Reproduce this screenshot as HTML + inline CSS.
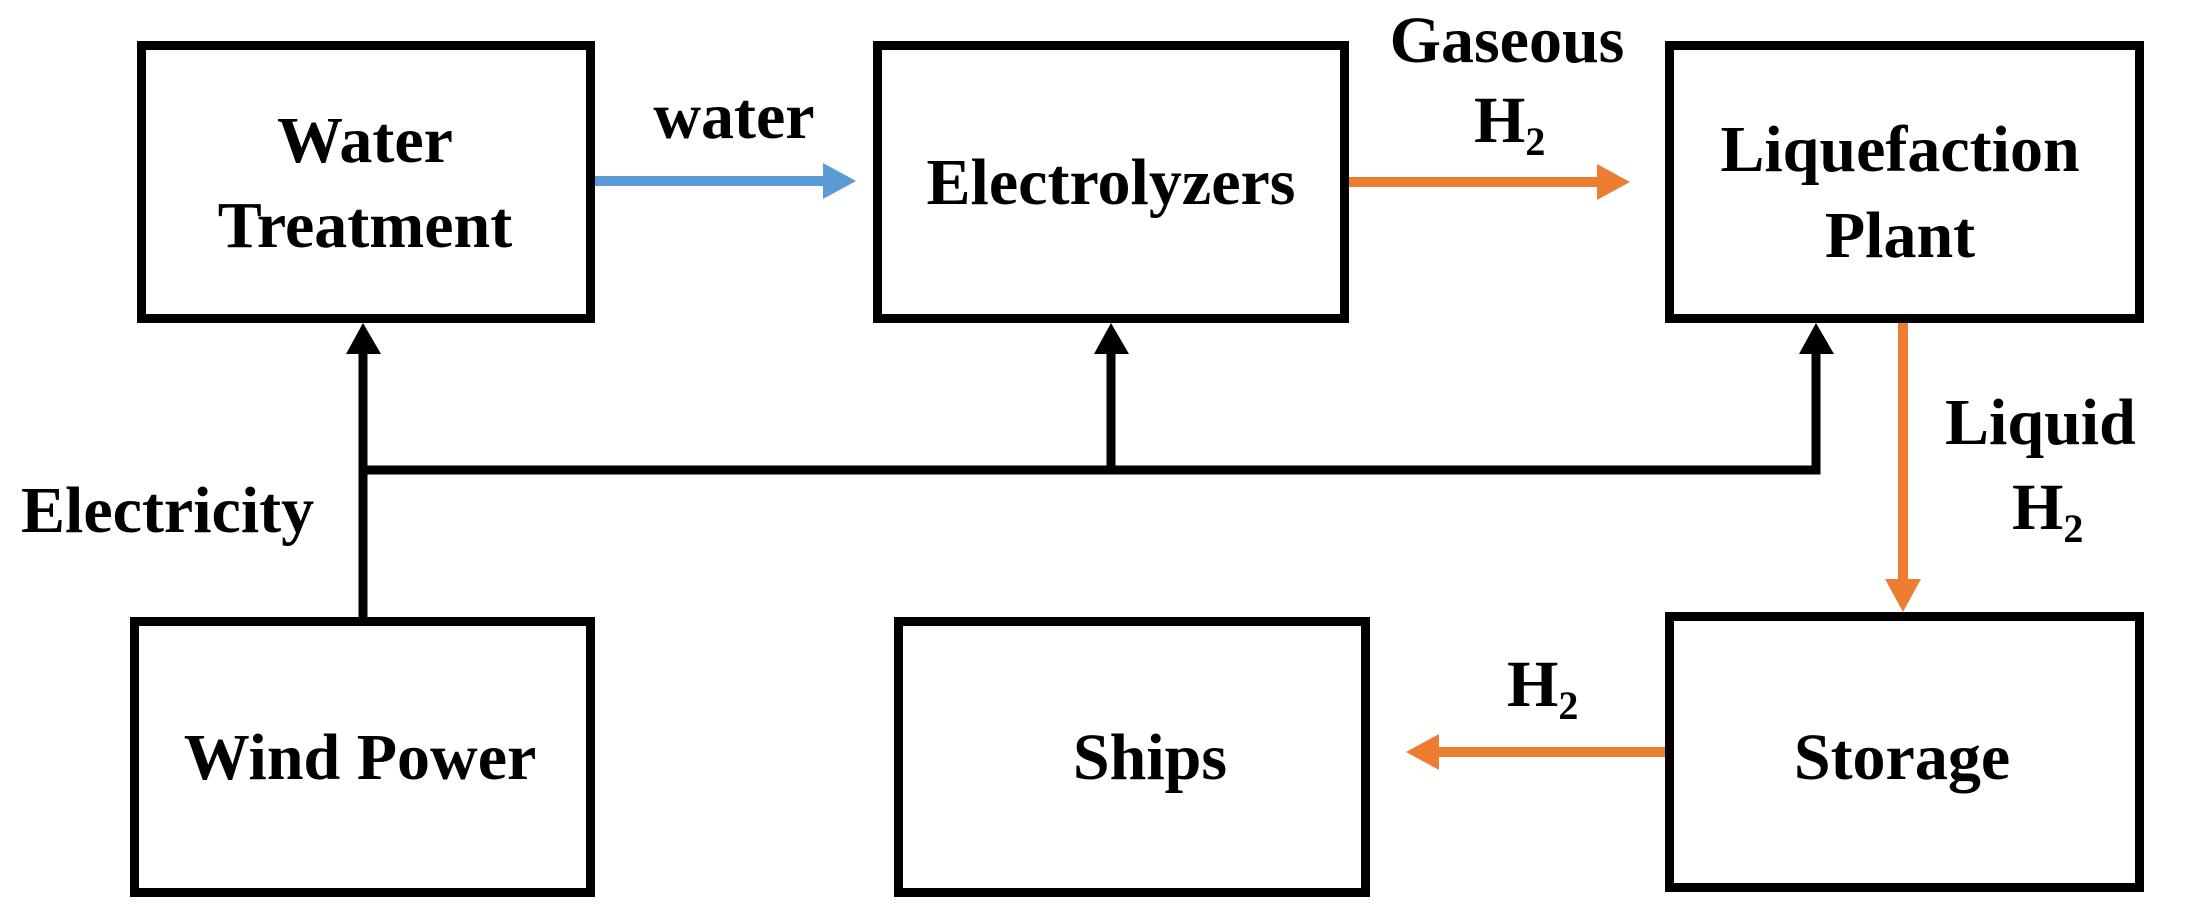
<!DOCTYPE html>
<html><head><meta charset="utf-8"><style>html,body{margin:0;padding:0;background:#fff}svg{display:block}</style></head>
<body>
<svg width="2186" height="922" viewBox="0 0 2186 922" xmlns="http://www.w3.org/2000/svg" font-family="'Liberation Serif', serif" font-weight="bold" font-size="66" fill="#000">
<g fill="none" stroke="#000" stroke-width="9">
<rect x="141.5" y="45.5" width="449" height="273"/>
<rect x="877.5" y="45.5" width="467" height="273"/>
<rect x="1669.5" y="45.5" width="470" height="273"/>
<rect x="134.5" y="621.5" width="456" height="271"/>
<rect x="898.5" y="621.5" width="467" height="271"/>
<rect x="1669.5" y="616.5" width="470" height="271"/>
<!-- electricity lines -->
<path d="M363 617 V350 M363 470 H1816 V350 M1111 470 V350"/>
</g>
<g fill="#000">
<polygon points="363,323 346,354 381,354"/>
<polygon points="1111,323 1094,354 1129,354"/>
<polygon points="1816,323 1799,354 1834,354"/>
</g>
<!-- blue water arrow -->
<line x1="595" y1="181" x2="825" y2="181" stroke="#5B9BD5" stroke-width="10"/>
<polygon points="856,181 823,163 823,199" fill="#5B9BD5"/>
<!-- orange arrows -->
<g stroke="#ED7D31" stroke-width="10">
<line x1="1349" y1="182" x2="1600" y2="182"/>
<line x1="1903" y1="323" x2="1903" y2="582"/>
<line x1="1665" y1="752" x2="1438" y2="752"/>
</g>
<g fill="#ED7D31">
<polygon points="1630,182 1597,164 1597,200"/>
<polygon points="1903,612 1885,579 1921,579"/>
<polygon points="1406,752 1439,734 1439,770"/>
</g>
<g text-anchor="middle">
<text x="365" y="162">Water</text>
<text x="365" y="247">Treatment</text>
<text x="1111" y="204">Electrolyzers</text>
<text x="1900" y="171">Liquefaction</text>
<text x="1900" y="257">Plant</text>
<text x="360" y="779">Wind Power</text>
<text x="1150" y="779">Ships</text>
<text x="1902" y="779">Storage</text>
<text x="734" y="138">water</text>
<text x="1507" y="62">Gaseous</text>
</g>
<text x="21" y="532">Electricity</text>
<text x="1945" y="444">Liquid</text>
<text x="1474" y="142">H<tspan font-size="40" dy="13">2</tspan></text>
<text x="2012" y="529">H<tspan font-size="40" dy="13">2</tspan></text>
<text x="1507" y="706">H<tspan font-size="40" dy="13">2</tspan></text>
</svg>
</body></html>
